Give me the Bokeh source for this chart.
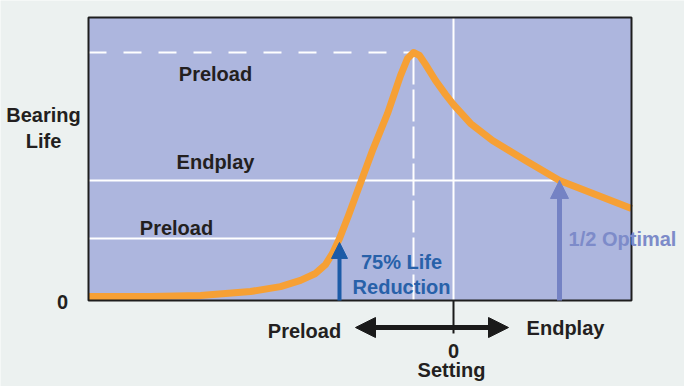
from bokeh.plotting import figure
from bokeh.models import Range1d, Label, Arrow, NormalHead
from bokeh.embed import file_html
from bokeh.resources import INLINE

# ---- data (setting: preload < 0 < endplay, arbitrary units; life: % of optimal) ----
setting = [-3.65, -3.03, -2.53, -2.03, -1.73, -1.53, -1.38, -1.28, -1.21, -1.14,
           -1.05, -0.95, -0.81, -0.66, -0.53, -0.46, -0.40, -0.34, -0.28, -0.18,
           -0.08, 0.00, 0.17, 0.39, 0.72, 1.06, 1.42, 1.78]
life = [1.6, 1.6, 2.0, 3.6, 5.6, 8.1, 10.9, 14.5, 19.0, 25.0,
        34.3, 45.2, 60.5, 75.4, 90.7, 97.6, 100.0, 98.8, 95.2, 88.7,
        83.1, 79.0, 71.4, 64.5, 56.5, 48.4, 42.7, 37.1]

optimal_setting = -0.40
optimal_life = 100.0
half_setting = 1.06
half_life = 48.4
reduced_setting = -1.14
reduced_life = 25.0
zero = 0

# chart box (data extent) and the surrounding view
x_lo, x_hi = -3.65, 1.78
y_lo, y_hi = 0.0, 114.1
view_x = (-4.53, 2.31)
view_y = (-34.68, 120.97)

FONT = "Liberation Sans"
DARK = "#231F20"

p = figure(width=684, height=386, output_backend="svg", toolbar_location=None,
           x_range=Range1d(*view_x), y_range=Range1d(*view_y),
           x_axis_location=None, y_axis_location=None,
           min_border=0, min_border_left=0, min_border_right=0,
           min_border_top=0, min_border_bottom=0)
p.background_fill_color = "#ECF1F0"
p.border_fill_color = "#ECF1F0"
p.outline_line_color = None
p.grid.grid_line_color = None

# plot box
p.quad(left=[x_lo], right=[x_hi], bottom=[y_lo], top=[y_hi],
       fill_color="#ADB6DE", line_color=None)

# zero-setting grid line and tick
p.segment(x0=[zero], y0=[y_lo], x1=[zero], y1=[y_hi], line_color="white", line_width=2)
p.segment(x0=[zero], y0=[y_lo], x1=[zero], y1=[-13.3], line_color="#1A1A1A", line_width=2)

# reference lines
p.line([x_lo, optimal_setting], [optimal_life, optimal_life], line_color="white",
       line_width=2, line_dash="18 17")
p.line([optimal_setting, optimal_setting], [optimal_life, y_lo], line_color="white",
       line_width=2, line_dash="32 5")
p.line([x_lo, half_setting], [half_life, half_life], line_color="white", line_width=2)
p.line([x_lo, reduced_setting], [reduced_life, reduced_life], line_color="white", line_width=2)

# life curve
p.line(setting, life, line_color="#F6A035", line_width=7, line_join="round", line_cap="butt")

# arrows
p.add_layout(Arrow(x_start=reduced_setting, y_start=y_lo, x_end=reduced_setting, y_end=reduced_life - 1.6,
                   line_color="#1C5BA7", line_width=4,
                   end=NormalHead(size=16, fill_color="#1C5BA7", line_color="#1C5BA7")))
p.add_layout(Arrow(x_start=half_setting, y_start=y_lo, x_end=half_setting, y_end=half_life,
                   line_color="#7482C4", line_width=5,
                   end=NormalHead(size=18, fill_color="#7482C4", line_color="#7482C4")))
p.add_layout(Arrow(x_start=-0.98, y_start=-10.9, x_end=0.55, y_end=-10.9,
                   line_color="#1A1A1A", line_width=5,
                   start=NormalHead(size=20, fill_color="#1A1A1A", line_color="#1A1A1A"),
                   end=NormalHead(size=20, fill_color="#1A1A1A", line_color="#1A1A1A")))

# box outline on top
p.quad(left=[x_lo], right=[x_hi], bottom=[y_lo], top=[y_hi],
       fill_color=None, line_color="#1E1E1E", line_width=2)

def lab(x, y, text, color=DARK, align="center"):
    p.add_layout(Label(x=x, y=y, text=text, text_font=FONT, text_font_style="bold",
                       text_font_size="20px", text_color=color, text_align=align,
                       text_baseline="middle"))

lab(-2.38, 91.5, "Preload")
lab(-2.38, 56.0, "Endplay")
lab(-2.77, 29.4, "Preload")
lab(-4.10, 74.6, "Bearing")
lab(-4.10, 64.5, "Life")
lab(-3.91, -0.8, "0")
lab(-0.52, 15.7, "75% Life", color="#2861A9")
lab(-0.52, 5.6, "Reduction", color="#2861A9")
lab(1.69, 24.6, "1/2 Optimal", color="#7D8BC9")
lab(-1.49, -12.1, "Preload")
lab(1.12, -10.9, "Endplay")
lab(0.0, -20.2, "0")
lab(-0.02, -28.2, "Setting")

open("out.html", "w").write(file_html(p, INLINE))
